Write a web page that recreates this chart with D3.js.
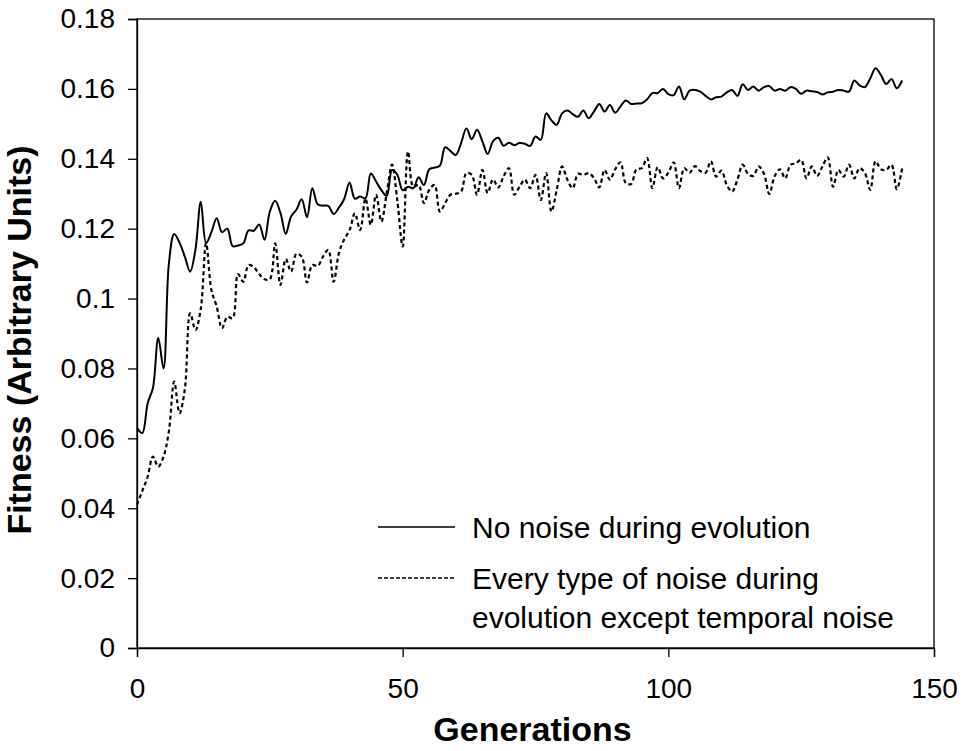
<!DOCTYPE html>
<html>
<head>
<meta charset="utf-8">
<script src="https://cdn.jsdelivr.net/npm/d3@7"></script>
<style>
  html, body { margin: 0; padding: 0; background: #fff; }
  svg text { font-family: "Liberation Sans", Arial, sans-serif; fill: #000; }
</style>
</head>
<body>
<svg id="chart" width="965" height="751"></svg>
<script>
// Mean fitness per generation, generations 0..144
const noNoise = [
  0.063, 0.0615, 0.070, 0.0744, 0.0887, 0.080, 0.110, 0.1185, 0.116, 0.112,
  0.1077, 0.114, 0.1277, 0.1159, 0.119, 0.123, 0.119, 0.120, 0.115, 0.1152,
  0.1158, 0.1195, 0.1194, 0.1212, 0.1168, 0.1249, 0.128, 0.1245, 0.1185, 0.1235,
  0.1254, 0.1284, 0.1233, 0.1316, 0.127, 0.1266, 0.1265, 0.1242, 0.126, 0.1285,
  0.1332, 0.1286, 0.1292, 0.1287, 0.1358, 0.1335, 0.131, 0.1294, 0.1368, 0.1354,
  0.131, 0.132, 0.1316, 0.1347, 0.1325, 0.137, 0.1375, 0.138, 0.1433, 0.1422,
  0.1411, 0.1445, 0.1487, 0.1456, 0.1483, 0.145, 0.1414, 0.145, 0.146, 0.1437,
  0.1446, 0.1439, 0.1445, 0.1443, 0.1437, 0.1464, 0.1454, 0.153, 0.151, 0.1497,
  0.153, 0.1538, 0.1528, 0.152, 0.1538, 0.1516, 0.1535, 0.1557, 0.1535, 0.1554,
  0.1532, 0.155, 0.1567, 0.1557, 0.1558, 0.1559, 0.157, 0.1588, 0.1588, 0.160,
  0.1585, 0.1582, 0.1607, 0.157, 0.1595, 0.1597, 0.1592, 0.158, 0.157, 0.1576,
  0.1578, 0.159, 0.1597, 0.158, 0.1613, 0.1597, 0.1607, 0.1595, 0.1605, 0.1608,
  0.1595, 0.160, 0.1595, 0.1605, 0.160, 0.1586, 0.1595, 0.1593, 0.1591, 0.1584,
  0.159, 0.1592, 0.1597, 0.1595, 0.1592, 0.1624, 0.161, 0.1605, 0.163, 0.1659,
  0.164, 0.1614, 0.1628, 0.1602, 0.1624
];

const allNoiseButTemporal = [
  0.041, 0.045, 0.049, 0.0548, 0.0519, 0.0548, 0.062, 0.0762, 0.0672, 0.074,
  0.0958, 0.091, 0.097, 0.1158, 0.1025, 0.0977, 0.0915, 0.0948, 0.0944, 0.107,
  0.1048, 0.1096, 0.109, 0.107, 0.1055, 0.1055, 0.1158, 0.1039, 0.1113, 0.1077,
  0.1128, 0.112, 0.1046, 0.1096, 0.1093, 0.112, 0.1139, 0.1048, 0.113, 0.117,
  0.1195, 0.1244, 0.1196, 0.1287, 0.1211, 0.1297, 0.122, 0.1302, 0.1383, 0.128,
  0.1149, 0.1421, 0.132, 0.1325, 0.1273, 0.1311, 0.1325, 0.1249, 0.1273, 0.1297,
  0.130, 0.1306, 0.1359, 0.1354, 0.1297, 0.1368, 0.1302, 0.1341, 0.1318, 0.135,
  0.1373, 0.1297, 0.132, 0.134, 0.1316, 0.1354, 0.1282, 0.1359, 0.1249, 0.1311,
  0.1378, 0.134, 0.1316, 0.1357, 0.1354, 0.1359, 0.1345, 0.1318, 0.1368, 0.134,
  0.137, 0.139, 0.133, 0.1328, 0.137, 0.1373, 0.1402, 0.1316, 0.1376, 0.1344,
  0.136, 0.139, 0.1316, 0.1373, 0.136, 0.1379, 0.1365, 0.136, 0.1393, 0.1349,
  0.1366, 0.1325, 0.1306, 0.134, 0.1383, 0.1357, 0.1351, 0.1378, 0.1357, 0.1299,
  0.135, 0.137, 0.1344, 0.1383, 0.1387, 0.1397, 0.1344, 0.1378, 0.1351, 0.1378,
  0.1404, 0.132, 0.1368, 0.1349, 0.1383, 0.1344, 0.1373, 0.1359, 0.1311, 0.1393,
  0.137, 0.1368, 0.1383, 0.1313, 0.1373
];

const xTicks = [0, 50, 100, 150];
const yTicks = [0, 0.02, 0.04, 0.06, 0.08, 0.1, 0.12, 0.14, 0.16, 0.18];
const legendLabels = [
  ["No noise during evolution"],
  ["Every type of noise during", "evolution except temporal noise"]
];

const margin = { left: 137, top: 19, right: 31, bottom: 103 };
const W = 965, H = 751;
const iw = W - margin.left - margin.right;
const ih = H - margin.top - margin.bottom;

const svg = d3.select("#chart");
const g = svg.append("g").attr("transform", `translate(${margin.left},${margin.top})`);

const x = d3.scaleLinear().domain([0, 150]).range([0, iw]);
const y = d3.scaleLinear().domain([0, 0.18]).range([ih, 0]);

// plot frame
g.append("rect")
  .attr("x", 0).attr("y", 0).attr("width", iw).attr("height", ih)
  .attr("fill", "none").attr("stroke", "#000").attr("stroke-width", 1.3);

const fmtY = d => d === 0 ? "0" : String(+d.toFixed(2));

const yAxis = g.append("g")
  .call(d3.axisLeft(y).tickValues(yTicks).tickSize(9).tickPadding(13).tickFormat(fmtY));
const xAxis = g.append("g")
  .attr("transform", `translate(0,${ih})`)
  .call(d3.axisBottom(x).tickValues(xTicks).tickSize(9).tickPadding(21).tickFormat(d3.format("d")));

[yAxis, xAxis].forEach(a => {
  a.select(".domain").attr("stroke", "#000").attr("stroke-width", 1.3);
  a.selectAll(".tick line").attr("stroke", "#000").attr("stroke-width", 1.3);
  a.selectAll(".tick text").attr("font-size", 28).attr("font-family", "Liberation Sans, Arial, sans-serif").attr("fill", "#000");
});

// axis titles
svg.append("text")
  .attr("x", margin.left + iw / 2 - 3).attr("y", 741)
  .attr("text-anchor", "middle").attr("font-size", 34).attr("font-weight", "bold")
  .text("Generations");
svg.append("text")
  .attr("transform", `translate(31,340) rotate(-90)`)
  .attr("text-anchor", "middle").attr("font-size", 34).attr("font-weight", "bold")
  .text("Fitness (Arbitrary Units)");

const line = d3.line()
  .x((d, i) => x(i))
  .y(d => y(d))
  .curve(d3.curveCatmullRom.alpha(0.5));

g.append("path").datum(allNoiseButTemporal)
  .attr("d", line).attr("fill", "none").attr("stroke", "#000")
  .attr("stroke-width", 2.2).attr("stroke-dasharray", "4,3");
g.append("path").datum(noNoise)
  .attr("d", line).attr("fill", "none").attr("stroke", "#000")
  .attr("stroke-width", 2);

// legend
const legend = svg.append("g");
const legendRows = [
  { y: 527, dash: null, lines: legendLabels[0] },
  { y: 578, dash: "4,2", lines: legendLabels[1] }
];
legendRows.forEach(r => {
  legend.append("line")
    .attr("x1", 378).attr("x2", 455).attr("y1", r.y).attr("y2", r.y)
    .attr("stroke", "#000").attr("stroke-width", 1.3)
    .attr("stroke-dasharray", r.dash);
  r.lines.forEach((t, k) => {
    legend.append("text")
      .attr("x", 472).attr("y", r.y + 11 + k * 39)
      .attr("font-size", 30)
      .text(t);
  });
});
</script>
</body>
</html>
